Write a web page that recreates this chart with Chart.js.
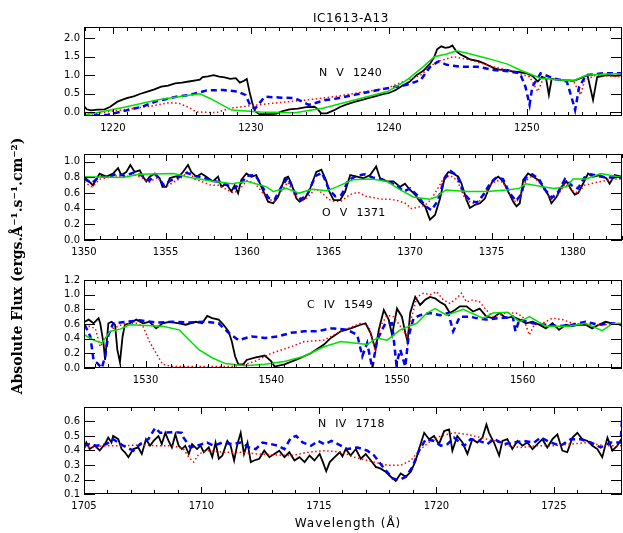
<!DOCTYPE html>
<html>
<head>
<meta charset="utf-8">
<script src="https://cdn.jsdelivr.net/npm/chart.js@4.4.0/dist/chart.umd.min.js"></script>
<style>
body { margin: 0; background: #fff; }
#wrap { position: relative; width: 623px; height: 533px; overflow: hidden; font-family: "DejaVu Sans", sans-serif; color: #000; }
canvas { position: absolute; left: 0; }
.lbl { position: absolute; white-space: pre; z-index: 2; }
.line { font-size: 11px; line-height: 12px; word-spacing: 5px; letter-spacing: 0.3px; }
</style>
</head>
<body>
<div id="wrap">
  <canvas id="p1"></canvas>
  <canvas id="p2"></canvas>
  <canvas id="p3"></canvas>
  <canvas id="p4"></canvas>
  <div class="lbl" style="left:291px;top:11.5px;width:120px;text-align:center;font-size:12px;line-height:12px;letter-spacing:0.6px">IC1613-A13</div>
  <div class="lbl line" style="left:319px;top:67px">N V 1240</div>
  <div class="lbl line" style="left:322px;top:207px">O V 1371</div>
  <div class="lbl line" style="left:307px;top:299px">C IV 1549</div>
  <div class="lbl line" style="left:318px;top:418px">N IV 1718</div>
  <div class="lbl" style="left:263px;top:515.5px;width:170px;text-align:center;font-size:12px;line-height:14px;letter-spacing:1px">Wavelength (Å)</div>
  <div class="lbl" style="left:-133px;top:257px;width:300px;height:18px;text-align:center;font-family:'DejaVu Serif',serif;font-weight:bold;font-size:14px;line-height:18px;transform:rotate(-90deg)">Absolute Flux (ergs.Å⁻¹.s⁻¹.cm⁻²)</div>
</div>
<script>
// ---- N V 1240 ----
const nvXTicks = [1220, 1230, 1240, 1250];
const nvYTicks = [0, 0.5, 1.0, 1.5, 2.0];
const nvBlack = [[1217.9,0.17],[1218.1,0.08],[1218.4,0.05],[1218.9,0.07],[1219.4,0.08],[1219.8,0.15],[1220.3,0.28],[1220.6,0.33],[1221.0,0.38],[1221.5,0.43],[1222.0,0.50],[1222.5,0.56],[1223.0,0.62],[1223.5,0.69],[1224.0,0.72],[1224.5,0.78],[1225.0,0.80],[1225.5,0.83],[1226.0,0.86],[1226.3,0.88],[1226.5,0.95],[1226.9,0.97],[1227.3,1.00],[1227.7,0.96],[1228.1,0.94],[1228.5,0.90],[1228.9,0.92],[1229.2,0.80],[1229.5,0.85],[1229.7,0.90],[1229.9,0.55],[1230.1,0.25],[1230.3,0.03],[1230.6,-0.05],[1231.2,-0.05],[1231.8,-0.04],[1232.3,0.03],[1232.8,0.08],[1233.4,0.10],[1234.0,0.14],[1234.6,0.15],[1234.8,0.10],[1235.1,-0.03],[1235.5,-0.03],[1236.0,0.05],[1236.5,0.15],[1237.0,0.22],[1237.5,0.28],[1238.0,0.33],[1238.5,0.38],[1239.0,0.43],[1239.5,0.48],[1240.0,0.52],[1240.5,0.60],[1241.0,0.72],[1241.5,0.82],[1242.0,1.00],[1242.5,1.12],[1243.0,1.32],[1243.3,1.50],[1243.5,1.70],[1243.8,1.78],[1244.1,1.74],[1244.4,1.76],[1244.6,1.80],[1244.9,1.64],[1245.2,1.56],[1245.5,1.50],[1245.8,1.44],[1246.1,1.41],[1246.5,1.38],[1246.9,1.32],[1247.3,1.25],[1247.6,1.19],[1248.0,1.15],[1248.6,1.14],[1249.0,1.10],[1249.5,1.08],[1250.0,1.05],[1250.4,0.98],[1250.8,0.83],[1251.1,0.96],[1251.4,0.90],[1251.6,0.47],[1251.8,0.90],[1252.4,0.87],[1253.0,0.86],[1253.4,0.85],[1253.9,0.92],[1254.4,1.00],[1254.8,0.33],[1255.1,0.95],[1255.8,1.00],[1256.4,0.98],[1256.9,1.00]];
const nvRed = [[1217.9,-0.07],[1220.4,0.05],[1222.8,0.17],[1224.1,0.26],[1224.8,0.24],[1225.6,0.11],[1226.0,0.01],[1227.5,-0.01],[1228.5,0.11],[1230.0,0.18],[1232.0,0.26],[1234.0,0.33],[1236.4,0.44],[1237.5,0.51],[1239.9,0.65],[1241.3,0.87],[1242.3,1.00],[1243.0,1.23],[1243.5,1.37],[1244.1,1.43],[1244.7,1.50],[1245.9,1.41],[1247.6,1.23],[1249.0,1.10],[1250.2,0.96],[1250.8,0.56],[1251.2,0.92],[1252.4,0.87],[1253.4,0.83],[1253.9,0.47],[1254.2,0.87],[1255.0,1.00],[1256.9,0.96]];
const nvBlue = [[1217.9,-0.07],[1219.6,-0.07],[1221.1,0.06],[1222.1,0.15],[1223.1,0.29],[1224.6,0.42],[1225.6,0.47],[1226.8,0.59],[1228.0,0.60],[1229.0,0.56],[1229.6,0.47],[1230.0,0.15],[1230.3,0.10],[1231.0,0.42],[1232.0,0.40],[1233.2,0.38],[1234.2,0.20],[1235.4,0.33],[1236.2,0.37],[1237.5,0.47],[1239.9,0.65],[1241.3,0.74],[1242.3,0.87],[1243.0,1.23],[1243.6,1.37],[1244.2,1.28],[1245.2,1.23],[1246.4,1.23],[1247.6,1.14],[1248.8,1.10],[1249.5,1.05],[1249.9,0.69],[1250.2,0.20],[1250.4,0.69],[1251.0,1.05],[1251.9,0.92],[1252.9,0.83],[1253.3,0.33],[1253.5,0.06],[1253.8,0.69],[1254.3,1.00],[1255.5,1.05],[1256.9,1.05]];
const nvGreen = [[1217.9,-0.08],[1220.9,0.14],[1223.2,0.33],[1225.1,0.44],[1226.3,0.50],[1227.0,0.38],[1228.6,0.06],[1230.7,0.01],[1233.2,-0.01],[1235.2,0.11],[1237.5,0.33],[1239.9,0.56],[1241.3,0.87],[1242.5,1.23],[1243.3,1.50],[1244.2,1.57],[1244.9,1.66],[1245.7,1.59],[1247.1,1.46],[1248.6,1.30],[1249.5,1.14],[1251.0,0.92],[1252.4,0.87],[1253.4,0.85],[1254.3,1.00],[1255.8,1.03],[1256.9,1.04]];

// ---- O V 1371 ----
const ovXTicks = [1350, 1355, 1360, 1365, 1370, 1375, 1380];
const ovYTicks = [0, 0.2, 0.4, 0.6, 0.8, 1.0];
const ovBlack = [[1350.0,0.81],[1350.55,0.70],[1350.96,0.85],[1351.37,0.81],[1351.78,0.85],[1352.09,0.92],[1352.29,0.83],[1352.6,0.87],[1352.84,0.96],[1353.11,0.87],[1353.42,0.89],[1353.62,0.81],[1353.82,0.75],[1354.03,0.81],[1354.34,0.85],[1354.64,0.79],[1354.81,0.68],[1355.05,0.68],[1355.26,0.79],[1355.56,0.81],[1355.87,0.82],[1356.07,0.87],[1356.38,0.96],[1356.58,0.87],[1356.89,0.81],[1357.2,0.85],[1357.5,0.81],[1357.91,0.75],[1358.22,0.81],[1358.43,0.68],[1358.73,0.72],[1359.04,0.62],[1359.24,0.70],[1359.45,0.60],[1359.65,0.77],[1359.96,0.85],[1360.27,0.81],[1360.57,0.83],[1360.88,0.68],[1361.29,0.49],[1361.6,0.47],[1361.9,0.55],[1362.31,0.79],[1362.52,0.81],[1362.72,0.72],[1363.03,0.53],[1363.23,0.49],[1363.54,0.53],[1363.84,0.64],[1364.25,0.87],[1364.56,0.90],[1364.87,0.75],[1365.0,0.64],[1365.31,0.51],[1365.71,0.51],[1366.02,0.62],[1366.33,0.83],[1366.73,0.81],[1367.14,0.79],[1367.55,0.83],[1367.92,0.94],[1368.16,0.79],[1368.57,0.75],[1368.98,0.75],[1369.39,0.68],[1369.69,0.72],[1370.0,0.64],[1370.31,0.58],[1370.61,0.49],[1370.92,0.43],[1371.22,0.26],[1371.53,0.32],[1371.84,0.53],[1372.14,0.81],[1372.35,0.87],[1372.65,0.85],[1372.96,0.81],[1373.16,0.72],[1373.47,0.51],[1373.67,0.41],[1373.98,0.45],[1374.29,0.47],[1374.59,0.53],[1374.8,0.64],[1375.1,0.77],[1375.41,0.81],[1375.71,0.75],[1376.02,0.62],[1376.33,0.49],[1376.53,0.43],[1376.73,0.47],[1376.94,0.77],[1377.24,0.85],[1377.55,0.81],[1377.86,0.77],[1378.16,0.68],[1378.47,0.58],[1378.67,0.47],[1378.98,0.55],[1379.29,0.68],[1379.59,0.75],[1379.9,0.64],[1380.1,0.58],[1380.31,0.60],[1380.61,0.72],[1380.92,0.85],[1381.22,0.81],[1381.63,0.83],[1382.04,0.79],[1382.24,0.72],[1382.55,0.83],[1382.96,0.81]];
const ovRed = [[1350.0,0.74],[1350.5,0.68],[1351.0,0.78],[1351.5,0.80],[1352.0,0.82],[1352.5,0.80],[1353.0,0.84],[1353.5,0.80],[1354.0,0.74],[1354.5,0.80],[1355.0,0.68],[1355.5,0.74],[1356.0,0.80],[1356.4,0.88],[1356.8,0.78],[1357.3,0.74],[1357.8,0.70],[1358.3,0.70],[1358.8,0.64],[1359.2,0.60],[1359.6,0.66],[1360.0,0.76],[1360.5,0.72],[1360.9,0.62],[1361.3,0.52],[1361.7,0.50],[1362.1,0.62],[1362.5,0.74],[1362.9,0.58],[1363.3,0.50],[1363.7,0.54],[1364.2,0.66],[1364.6,0.60],[1365.0,0.52],[1365.4,0.49],[1365.8,0.50],[1366.3,0.58],[1366.8,0.61],[1367.3,0.56],[1367.8,0.54],[1368.3,0.52],[1368.8,0.52],[1369.3,0.50],[1369.7,0.47],[1370.1,0.40],[1370.5,0.42],[1370.9,0.44],[1371.3,0.52],[1371.7,0.66],[1372.1,0.80],[1372.5,0.82],[1372.9,0.76],[1373.3,0.56],[1373.7,0.48],[1374.1,0.46],[1374.5,0.56],[1374.9,0.70],[1375.3,0.76],[1375.7,0.74],[1376.1,0.58],[1376.5,0.48],[1376.8,0.56],[1377.1,0.76],[1377.5,0.82],[1377.9,0.74],[1378.3,0.62],[1378.7,0.52],[1379.1,0.58],[1379.5,0.72],[1379.9,0.64],[1380.3,0.60],[1380.7,0.70],[1381.1,0.72],[1381.5,0.74],[1382.0,0.76],[1382.5,0.78],[1383.0,0.78]];
const ovBlue = [[1350.0,0.78],[1350.5,0.73],[1351.0,0.82],[1351.5,0.80],[1352.0,0.85],[1352.5,0.82],[1353.0,0.86],[1353.5,0.83],[1354.0,0.76],[1354.4,0.84],[1354.9,0.70],[1355.3,0.76],[1355.8,0.80],[1356.3,0.86],[1356.8,0.82],[1357.3,0.80],[1357.8,0.76],[1358.3,0.74],[1358.8,0.70],[1359.2,0.66],[1359.6,0.72],[1360.0,0.82],[1360.5,0.83],[1360.9,0.70],[1361.3,0.54],[1361.7,0.52],[1362.1,0.68],[1362.5,0.80],[1362.9,0.62],[1363.3,0.52],[1363.7,0.58],[1364.2,0.82],[1364.6,0.86],[1365.0,0.66],[1365.4,0.56],[1365.8,0.58],[1366.2,0.76],[1366.7,0.82],[1367.2,0.84],[1367.7,0.80],[1368.2,0.78],[1368.7,0.74],[1369.2,0.70],[1369.6,0.62],[1370.0,0.66],[1370.5,0.56],[1370.9,0.44],[1371.3,0.38],[1371.7,0.50],[1372.1,0.78],[1372.5,0.88],[1372.9,0.82],[1373.3,0.60],[1373.7,0.50],[1374.1,0.48],[1374.5,0.58],[1374.9,0.72],[1375.3,0.80],[1375.7,0.78],[1376.1,0.60],[1376.5,0.50],[1376.8,0.58],[1377.1,0.80],[1377.5,0.84],[1377.9,0.78],[1378.3,0.64],[1378.7,0.54],[1379.1,0.62],[1379.5,0.78],[1379.9,0.70],[1380.3,0.66],[1380.7,0.80],[1381.1,0.84],[1381.5,0.82],[1382.0,0.80],[1382.5,0.80],[1383.0,0.80]];
const ovGreen = [[1350.0,0.81],[1352.4,0.80],[1353.4,0.84],[1355.5,0.85],[1356.5,0.80],[1357.9,0.75],[1359.1,0.72],[1360.0,0.75],[1361.2,0.68],[1361.6,0.62],[1362.4,0.66],[1363.2,0.60],[1364.0,0.65],[1364.9,0.63],[1365.5,0.68],[1366.5,0.77],[1367.6,0.78],[1368.6,0.75],[1369.4,0.64],[1370.2,0.55],[1371.2,0.52],[1371.6,0.55],[1372.2,0.64],[1373.5,0.62],[1374.7,0.62],[1375.9,0.64],[1376.7,0.66],[1377.1,0.72],[1378.8,0.66],[1379.6,0.68],[1380.0,0.78],[1380.8,0.78],[1381.7,0.85],[1383.0,0.80]];

// ---- C IV 1549 ----
const civXTicks = [1530, 1540, 1550, 1560];
const civYTicks = [0, 0.2, 0.4, 0.6, 0.8, 1.0, 1.2];
const civBlack = [[1525.16,0.63],[1525.47,0.66],[1525.86,0.61],[1526.26,0.68],[1526.39,0.61],[1526.65,0.34],[1526.78,0.11],[1527.04,0.61],[1527.30,0.63],[1527.57,0.59],[1527.75,0.25],[1527.96,0.08],[1528.17,0.43],[1528.35,0.59],[1528.74,0.61],[1529.27,0.66],[1529.79,0.61],[1530.31,0.63],[1530.84,0.54],[1531.36,0.61],[1531.88,0.63],[1532.67,0.61],[1533.19,0.59],[1533.98,0.63],[1534.50,0.61],[1534.90,0.71],[1535.29,0.68],[1535.81,0.66],[1536.20,0.59],[1536.60,0.50],[1536.86,0.36],[1537.12,0.16],[1537.38,0.05],[1537.77,0.05],[1538.04,0.11],[1538.69,0.14],[1539.48,0.17],[1540.0,0.09],[1540.26,0.02],[1541.05,0.05],[1542.09,0.12],[1543.14,0.20],[1544.19,0.32],[1544.74,0.41],[1545.53,0.50],[1546.32,0.54],[1547.11,0.59],[1547.5,0.61],[1547.89,0.48],[1548.29,0.25],[1548.55,0.52],[1548.95,0.79],[1549.34,0.66],[1549.61,0.45],[1550.0,0.81],[1550.39,0.70],[1550.66,0.48],[1550.84,0.36],[1551.05,0.75],[1551.45,0.97],[1551.84,0.86],[1552.24,0.93],[1552.63,0.97],[1553.03,0.95],[1553.42,0.90],[1553.82,0.86],[1554.21,0.75],[1554.61,0.79],[1555.0,0.84],[1555.53,0.84],[1556.05,0.77],[1556.58,0.81],[1557.11,0.70],[1557.63,0.68],[1558.16,0.75],[1558.68,0.68],[1559.21,0.70],[1559.74,0.66],[1560.26,0.61],[1560.79,0.63],[1561.32,0.59],[1561.84,0.54],[1562.37,0.61],[1562.89,0.52],[1563.42,0.59],[1563.95,0.57],[1564.47,0.59],[1565.0,0.59],[1565.53,0.54],[1566.05,0.59],[1566.58,0.63],[1567.11,0.61],[1567.87,0.59]];
const civRed = [[1525.16,0.59],[1526.0,0.54],[1526.39,0.29],[1526.91,0.43],[1527.43,0.54],[1528.22,0.60],[1529.27,0.61],[1529.79,0.57],[1530.31,0.36],[1530.84,0.20],[1531.36,0.05],[1532.15,0.02],[1534.76,0.02],[1536.86,0.02],[1537.91,0.05],[1538.69,0.09],[1540.0,0.20],[1541.57,0.29],[1542.62,0.36],[1544.19,0.38],[1545.53,0.50],[1547.11,0.61],[1547.76,0.57],[1548.29,0.23],[1548.68,0.57],[1549.21,0.72],[1549.74,0.70],[1550.26,0.57],[1550.79,0.43],[1551.18,0.70],[1551.58,0.97],[1552.11,1.02],[1552.63,1.00],[1553.16,1.04],[1553.68,0.93],[1554.21,0.88],[1554.74,0.95],[1555.13,1.02],[1555.53,0.90],[1556.05,0.93],[1556.58,0.90],[1557.11,0.79],[1557.63,0.70],[1558.68,0.75],[1559.47,0.75],[1560.0,0.70],[1560.53,0.45],[1560.92,0.59],[1561.58,0.61],[1562.37,0.68],[1563.16,0.66],[1563.95,0.61],[1565.0,0.59],[1566.32,0.59],[1567.87,0.61]];
const civBlue = [[1525.16,0.59],[1525.6,0.43],[1525.86,0.11],[1526.13,0.07],[1526.52,0.0],[1526.78,0.16],[1527.04,0.45],[1527.43,0.61],[1528.48,0.63],[1529.53,0.65],[1530.84,0.62],[1532.15,0.63],[1533.46,0.62],[1534.76,0.63],[1535.81,0.61],[1536.6,0.48],[1537.38,0.38],[1538.43,0.43],[1539.48,0.41],[1540.52,0.43],[1541.57,0.48],[1542.62,0.50],[1543.66,0.50],[1544.71,0.54],[1545.0,0.54],[1546.05,0.52],[1546.84,0.45],[1547.24,0.16],[1547.63,0.34],[1548.03,0.0],[1548.42,0.38],[1549.08,0.61],[1549.61,0.61],[1549.95,0.05],[1550.26,0.25],[1550.66,0.02],[1550.92,0.43],[1551.32,0.68],[1551.84,0.72],[1552.63,0.75],[1553.42,0.72],[1554.08,0.75],[1554.47,0.50],[1555.0,0.70],[1555.79,0.70],[1556.32,0.68],[1557.11,0.66],[1558.16,0.68],[1559.21,0.70],[1559.42,0.50],[1559.74,0.66],[1560.79,0.61],[1561.84,0.59],[1562.89,0.57],[1563.95,0.59],[1565.0,0.63],[1566.05,0.59],[1567.11,0.61],[1567.87,0.59]];
const civGreen = [[1525.16,0.45],[1525.86,0.38],[1526.52,0.34],[1527.17,0.50],[1527.96,0.53],[1528.74,0.59],[1530.05,0.58],[1531.36,0.57],[1532.67,0.52],[1533.19,0.43],[1534.24,0.25],[1535.29,0.14],[1536.34,0.06],[1537.91,0.03],[1539.48,0.05],[1541.05,0.09],[1542.62,0.16],[1544.19,0.29],[1545.53,0.36],[1547.63,0.32],[1548.42,0.41],[1549.21,0.38],[1550.26,0.52],[1551.58,0.61],[1552.37,0.75],[1553.03,0.81],[1553.95,0.72],[1555.26,0.80],[1556.84,0.68],[1557.63,0.75],[1558.82,0.76],[1559.74,0.63],[1560.53,0.70],[1561.84,0.57],[1563.68,0.57],[1565.0,0.61],[1566.32,0.51],[1567.11,0.60],[1567.87,0.61]];

// ---- N IV 1718 ----
const nivXTicks = [1705, 1710, 1715, 1720, 1725];
const nivYTicks = [0.1, 0.2, 0.3, 0.4, 0.5, 0.6];
const nivBlack = [[1705.0,0.41],[1705.1,0.455],[1705.24,0.41],[1705.46,0.433],[1705.67,0.40],[1705.89,0.444],[1706.03,0.489],[1706.17,0.455],[1706.24,0.50],[1706.46,0.478],[1706.6,0.41],[1706.74,0.388],[1706.89,0.354],[1707.1,0.41],[1707.31,0.421],[1707.46,0.376],[1707.64,0.478],[1707.81,0.433],[1707.96,0.466],[1708.17,0.50],[1708.31,0.444],[1708.46,0.522],[1708.6,0.466],[1708.74,0.421],[1708.89,0.511],[1709.03,0.433],[1709.17,0.41],[1709.31,0.433],[1709.46,0.376],[1709.6,0.444],[1709.81,0.41],[1709.96,0.433],[1710.1,0.388],[1710.31,0.421],[1710.46,0.354],[1710.6,0.455],[1710.74,0.343],[1710.89,0.365],[1711.1,0.466],[1711.24,0.433],[1711.39,0.331],[1711.53,0.444],[1711.67,0.522],[1711.81,0.376],[1711.96,0.455],[1712.1,0.32],[1712.24,0.331],[1712.46,0.343],[1712.67,0.399],[1712.89,0.354],[1713.1,0.376],[1713.31,0.399],[1713.53,0.354],[1713.74,0.388],[1713.96,0.331],[1714.17,0.354],[1714.39,0.32],[1714.6,0.365],[1714.81,0.331],[1715.03,0.376],[1715.17,0.32],[1715.31,0.257],[1715.46,0.32],[1715.67,0.354],[1715.89,0.388],[1716.0,0.36],[1716.14,0.41],[1716.35,0.365],[1716.57,0.41],[1716.78,0.343],[1716.99,0.376],[1717.21,0.331],[1717.42,0.287],[1717.63,0.275],[1717.84,0.253],[1718.06,0.219],[1718.27,0.19],[1718.48,0.242],[1718.7,0.219],[1718.91,0.253],[1719.12,0.331],[1719.26,0.41],[1719.48,0.522],[1719.69,0.478],[1719.9,0.50],[1720.11,0.444],[1720.33,0.534],[1720.54,0.545],[1720.68,0.399],[1720.89,0.50],[1721.11,0.455],[1721.32,0.376],[1721.53,0.478],[1721.74,0.455],[1721.96,0.489],[1722.13,0.579],[1722.24,0.522],[1722.45,0.455],[1722.67,0.365],[1722.81,0.466],[1723.02,0.478],[1723.23,0.41],[1723.45,0.466],[1723.66,0.433],[1723.87,0.455],[1724.09,0.41],[1724.3,0.444],[1724.51,0.478],[1724.72,0.421],[1724.94,0.478],[1725.15,0.511],[1725.36,0.399],[1725.57,0.388],[1725.79,0.489],[1726.0,0.522],[1726.21,0.478],[1726.43,0.466],[1726.64,0.433],[1726.85,0.41],[1727.06,0.354],[1727.28,0.489],[1727.49,0.399],[1727.7,0.433],[1727.91,0.489]];
const nivRed = [[1705.0,0.421],[1705.96,0.433],[1706.67,0.433],[1707.39,0.438],[1708.1,0.433],[1708.81,0.433],[1709.24,0.41],[1709.46,0.354],[1709.67,0.32],[1709.89,0.376],[1710.24,0.399],[1710.96,0.388],[1711.67,0.388],[1712.39,0.376],[1713.1,0.37],[1713.81,0.365],[1714.53,0.388],[1715.24,0.399],[1716.0,0.388],[1716.5,0.354],[1717.21,0.325],[1717.92,0.298],[1718.48,0.298],[1718.91,0.331],[1719.33,0.41],[1719.76,0.466],[1720.18,0.50],[1720.75,0.522],[1721.32,0.511],[1721.88,0.489],[1722.45,0.466],[1723.02,0.433],[1723.59,0.421],[1724.3,0.433],[1725.0,0.433],[1725.72,0.444],[1726.43,0.455],[1727.13,0.433],[1727.9,0.433]];
const nivBlue = [[1705.0,0.433],[1705.24,0.444],[1705.53,0.433],[1705.96,0.444],[1706.24,0.478],[1706.67,0.433],[1707.1,0.399],[1707.39,0.444],[1707.74,0.478],[1708.03,0.556],[1708.24,0.522],[1708.81,0.527],[1709.17,0.522],[1709.24,0.489],[1709.53,0.421],[1709.81,0.433],[1710.24,0.455],[1710.53,0.433],[1710.89,0.455],[1711.31,0.444],[1711.67,0.455],[1712.03,0.421],[1712.31,0.41],[1712.6,0.455],[1712.96,0.444],[1713.24,0.433],[1713.53,0.41],[1713.81,0.489],[1714.03,0.50],[1714.31,0.455],[1714.67,0.433],[1714.96,0.466],[1715.24,0.444],[1715.53,0.466],[1715.81,0.444],[1716.21,0.41],[1716.64,0.421],[1717.06,0.399],[1717.35,0.365],[1717.56,0.32],[1717.84,0.264],[1718.13,0.208],[1718.41,0.197],[1718.7,0.219],[1718.98,0.287],[1719.26,0.399],[1719.55,0.478],[1719.9,0.466],[1720.18,0.433],[1720.47,0.444],[1720.75,0.489],[1721.18,0.433],[1721.46,0.478],[1721.82,0.466],[1722.17,0.444],[1722.45,0.478],[1722.88,0.444],[1723.3,0.455],[1723.73,0.466],[1724.16,0.455],[1724.44,0.489],[1724.87,0.455],[1725.29,0.433],[1725.72,0.478],[1726.14,0.478],[1726.57,0.455],[1726.99,0.421],[1727.42,0.455],[1727.84,0.455],[1727.95,0.75]];

const FONT = '"DejaVu Sans", sans-serif';
const PADT = 10, PADB = 24;

// ticks pointing inwards on all four sides, plus the frame
const frameTicks = {
    id: 'frameTicks',
    afterDatasetsDraw(chart, args, opts) {
        const { ctx, chartArea: a, scales: { x, y } } = chart;
        ctx.save();
        ctx.strokeStyle = '#000';
        ctx.lineWidth = 1;
        ctx.strokeRect(a.left + 0.5, a.top + 0.5, a.right - a.left - 1, a.bottom - a.top - 1);
        ctx.beginPath();
        for (let v = Math.ceil(x.min); v <= x.max; v++) {
            const px = Math.round(x.getPixelForValue(v)) + 0.5;
            const len = opts.major.includes(v) ? 7 : 4;
            ctx.moveTo(px, a.bottom); ctx.lineTo(px, a.bottom - len);
            ctx.moveTo(px, a.top); ctx.lineTo(px, a.top + len);
        }
        y.ticks.forEach(t => {
            const py = Math.round(y.getPixelForValue(t.value)) + 0.5;
            ctx.moveTo(a.left, py); ctx.lineTo(a.left + 11, py);
            ctx.moveTo(a.right, py); ctx.lineTo(a.right - 11, py);
        });
        ctx.stroke();
        ctx.restore();
    }
};

function series(pts, color, width, dash) {
    return {
        data: pts.map(p => ({ x: p[0], y: p[1] })),
        borderColor: color,
        borderWidth: width,
        borderDash: dash,
        pointRadius: 0,
        tension: 0,
        fill: false
    };
}

function makePanel(id, top, bottom, xr, yr, xTicks, yTicks, sets) {
    const cv = document.getElementById(id);
    cv.width = 623;
    cv.height = bottom - top + PADT + PADB;
    cv.style.top = (top - PADT) + 'px';
    const tickFont = { size: 10, family: FONT };
    return new Chart(cv, {
        type: 'line',
        data: { datasets: sets },
        options: {
            responsive: false,
            animation: false,
            events: [],
            layout: { padding: { top: PADT, right: 1, left: 0, bottom: 0 } },
            plugins: { legend: { display: false }, tooltip: { enabled: false }, frameTicks: { major: xTicks } },
            scales: {
                x: {
                    type: 'linear', min: xr[0], max: xr[1],
                    grid: { display: false, drawTicks: false },
                    border: { display: false },
                    afterBuildTicks: s => { s.ticks = xTicks.map(v => ({ value: v })); },
                    afterFit: s => { s.height = PADB; },
                    ticks: { color: '#000', font: tickFont, padding: 6, maxRotation: 0, autoSkip: false, callback: v => v.toFixed(0) }
                },
                y: {
                    type: 'linear', min: yr[0], max: yr[1],
                    grid: { display: false, drawTicks: false },
                    border: { display: false },
                    afterBuildTicks: s => { s.ticks = yTicks.map(v => ({ value: v })); },
                    afterFit: s => { s.width = 84; },
                    ticks: { color: '#000', font: tickFont, padding: 4, autoSkip: false, callback: v => v.toFixed(1) }
                }
            }
        },
        plugins: [frameTicks]
    });
}

const GREEN = '#00e000', BLUE = '#0000ff', RED = '#ff0000', BLACK = '#000000';
const DOT = [1.5, 2.5], DASH = [6, 4];

makePanel('p1', 27, 116, [1217.9, 1256.9], [-0.1, 2.3], nvXTicks, nvYTicks, [
    series(nvGreen, GREEN, 1.5, []),
    series(nvBlue, BLUE, 2.5, DASH),
    series(nvRed, RED, 1.5, DOT),
    series(nvBlack, BLACK, 1.8, [])
]);
makePanel('p2', 154, 240, [1350, 1383], [0, 1.1], ovXTicks, ovYTicks, [
    series(ovGreen, GREEN, 1.5, []),
    series(ovBlue, BLUE, 2.5, DASH),
    series(ovRed, RED, 1.5, DOT),
    series(ovBlack, BLACK, 1.8, [])
]);
makePanel('p3', 280, 368, [1525.1, 1567.9], [0, 1.2], civXTicks, civYTicks, [
    series(civGreen, GREEN, 1.5, []),
    series(civBlue, BLUE, 2.5, DASH),
    series(civRed, RED, 1.5, DOT),
    series(civBlack, BLACK, 1.8, [])
]);
makePanel('p4', 407, 494, [1705, 1727.9], [0.1, 0.7], nivXTicks, nivYTicks, [
    series(nivBlue, BLUE, 2.5, DASH),
    series(nivRed, RED, 1.5, DOT),
    series(nivBlack, BLACK, 1.8, [])
]);
</script>
</body>
</html>
